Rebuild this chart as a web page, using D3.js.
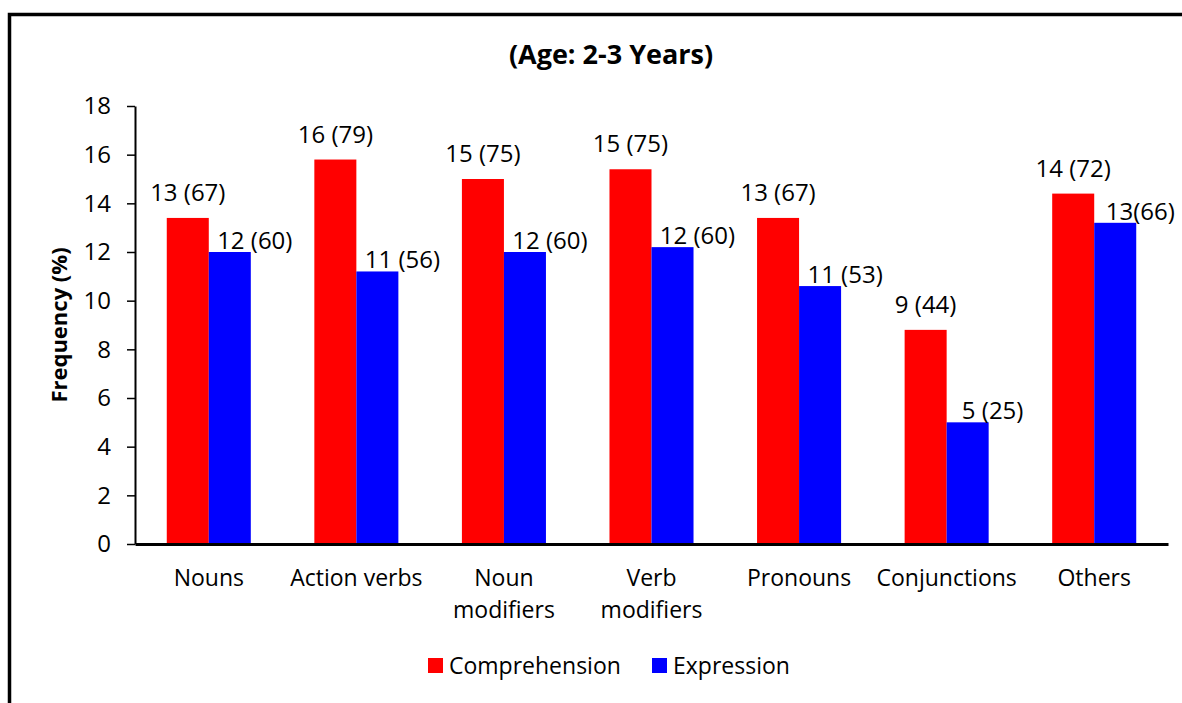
<!DOCTYPE html>
<html>
<head>
<meta charset="utf-8">
<script src="https://cdn.jsdelivr.net/npm/d3@7"></script>
<style>
  body { margin: 0; background: #fff; }
  svg { display: block; font-family: 'Open Sans', sans-serif; }
</style>
</head>
<body>
<div id="canvas"></div>
<script>
const categories = ['Nouns', 'Action verbs', 'Noun modifiers', 'Verb modifiers', 'Pronouns', 'Conjunctions', 'Others']
const tickLabels = [['Nouns'], ['Action verbs'], ['Noun', 'modifiers'], ['Verb', 'modifiers'], ['Pronouns'], ['Conjunctions'], ['Others']]
const series = ['Comprehension', 'Expression']
const comprehension = [13.4, 15.8, 15.0, 15.4, 13.4, 8.8, 14.4]
const expression = [12.0, 11.2, 12.0, 12.2, 10.6, 5.0, 13.2]
const comprehensionLabels = ['13 (67)', '16 (79)', '15 (75)', '15 (75)', '13 (67)', '9 (44)', '14 (72)']
const expressionLabels = ['12 (60)', '11 (56)', '12 (60)', '12 (60)', '11 (53)', '5 (25)', '13(66)']
const yTicks = [0, 2, 4, 6, 8, 10, 12, 14, 16, 18]
const colors = ['#ff0000', '#0000ff']

const width = 1182
const height = 703
const margin = { top: 106, bottom: 159, left: 135, right: 14 }

const svg = d3.select('#canvas')
    .append('svg')
        .attr('width', width)
        .attr('height', height)

// frame (runs off the right and bottom edges)
svg.append('path')
    .attr('d', `M9.5,${height + 10} V14.5 H${width + 10}`)
    .attr('fill', 'none')
    .attr('stroke', '#000')
    .attr('stroke-width', 3.5)

svg.append('text')
    .attr('x', 611)
    .attr('y', 64)
    .attr('text-anchor', 'middle')
    .attr('font-size', '27px')
    .attr('font-weight', 'bold')
    .text('(Age: 2-3 Years)')

const x = d3.scaleBand()
    .domain(categories)
    .range([margin.left, width - margin.right])
    .padding(0)

const xs = d3.scaleBand()
    .domain(series)
    .range([0, x.bandwidth()])
    .paddingInner(0)
    .paddingOuter(0.756)

const y = d3.scaleLinear()
    .domain([0, 18])
    .range([height - margin.bottom, margin.top])

const rows = categories.map((c, i) => ({
    cat: c,
    vals: [comprehension[i], expression[i]],
    labels: [comprehensionLabels[i], expressionLabels[i]]
}))

// bars
const groups = svg.append('g').selectAll('g')
    .data(rows)
    .enter()
    .append('g')
    .attr('transform', d => `translate(${x(d.cat)},0)`)

groups.selectAll('rect')
    .data(d => d.vals.map((v, j) => ({ s: series[j], v: v, j: j })))
    .enter()
    .append('rect')
    .attr('x', d => xs(d.s))
    .attr('y', d => y(d.v))
    .attr('width', xs.bandwidth())
    .attr('height', d => y(0) - y(d.v))
    .attr('fill', d => colors[d.j])

// value labels
groups.selectAll('text.val')
    .data(d => d.vals.map((v, j) => ({ s: series[j], v: v, j: j, t: d.labels[j] })))
    .enter()
    .append('text')
    .attr('class', 'val')
    .attr('x', d => xs(d.s) + xs.bandwidth() / 2 + (d.j === 0 ? 0 : 25))
    .attr('y', d => y(d.v) - (d.j === 0 ? 17 : 3))
    .attr('text-anchor', 'middle')
    .attr('font-size', '24px')
    .attr('fill', '#000')
    .text(d => d.t)

// y axis
const yAxis = svg.append('g')
    .attr('transform', `translate(${margin.left},0)`)
    .call(d3.axisLeft(y).tickValues(yTicks).tickSize(8).tickSizeOuter(0).tickPadding(16))
yAxis.select('.domain').attr('stroke-width', 2)
yAxis.selectAll('.tick line').attr('stroke-width', 1.5)
yAxis.selectAll('.tick text')
    .attr('font-size', '24px')
    .attr('font-family', "'Open Sans', sans-serif")
    .attr('fill', '#000')

// x axis
const xAxis = svg.append('g')
    .attr('transform', `translate(0,${y(0)})`)
    .call(d3.axisBottom(x).tickSize(0).tickSizeOuter(0).tickFormat(''))
xAxis.select('.domain').attr('stroke-width', 3)

xAxis.selectAll('.tick').each(function(d, i) {
    const t = d3.select(this).append('text')
        .attr('text-anchor', 'middle')
        .attr('font-size', '23px')
        .attr('font-family', "'Open Sans', sans-serif")
        .attr('fill', '#000')
    tickLabels[i].forEach((line, k) => {
        t.append('tspan').attr('x', 0).attr('y', 42 + k * 32).text(line)
    })
})

svg.append('text')
    .attr('transform', `translate(67,${y(9)}) rotate(-90)`)
    .attr('text-anchor', 'middle')
    .attr('font-size', '22px')
    .attr('font-weight', 'bold')
    .text('Frequency (%)')

// legend
const legendX = [428, 652]
const legend = svg.append('g').selectAll('g')
    .data(series)
    .enter()
    .append('g')
    .attr('transform', (d, i) => `translate(${legendX[i]},658)`)
legend.append('rect')
    .attr('width', 15)
    .attr('height', 15)
    .attr('fill', (d, i) => colors[i])
legend.append('text')
    .attr('x', 21)
    .attr('y', 16)
    .attr('font-size', '23px')
    .text(d => d)
</script>
</body>
</html>
